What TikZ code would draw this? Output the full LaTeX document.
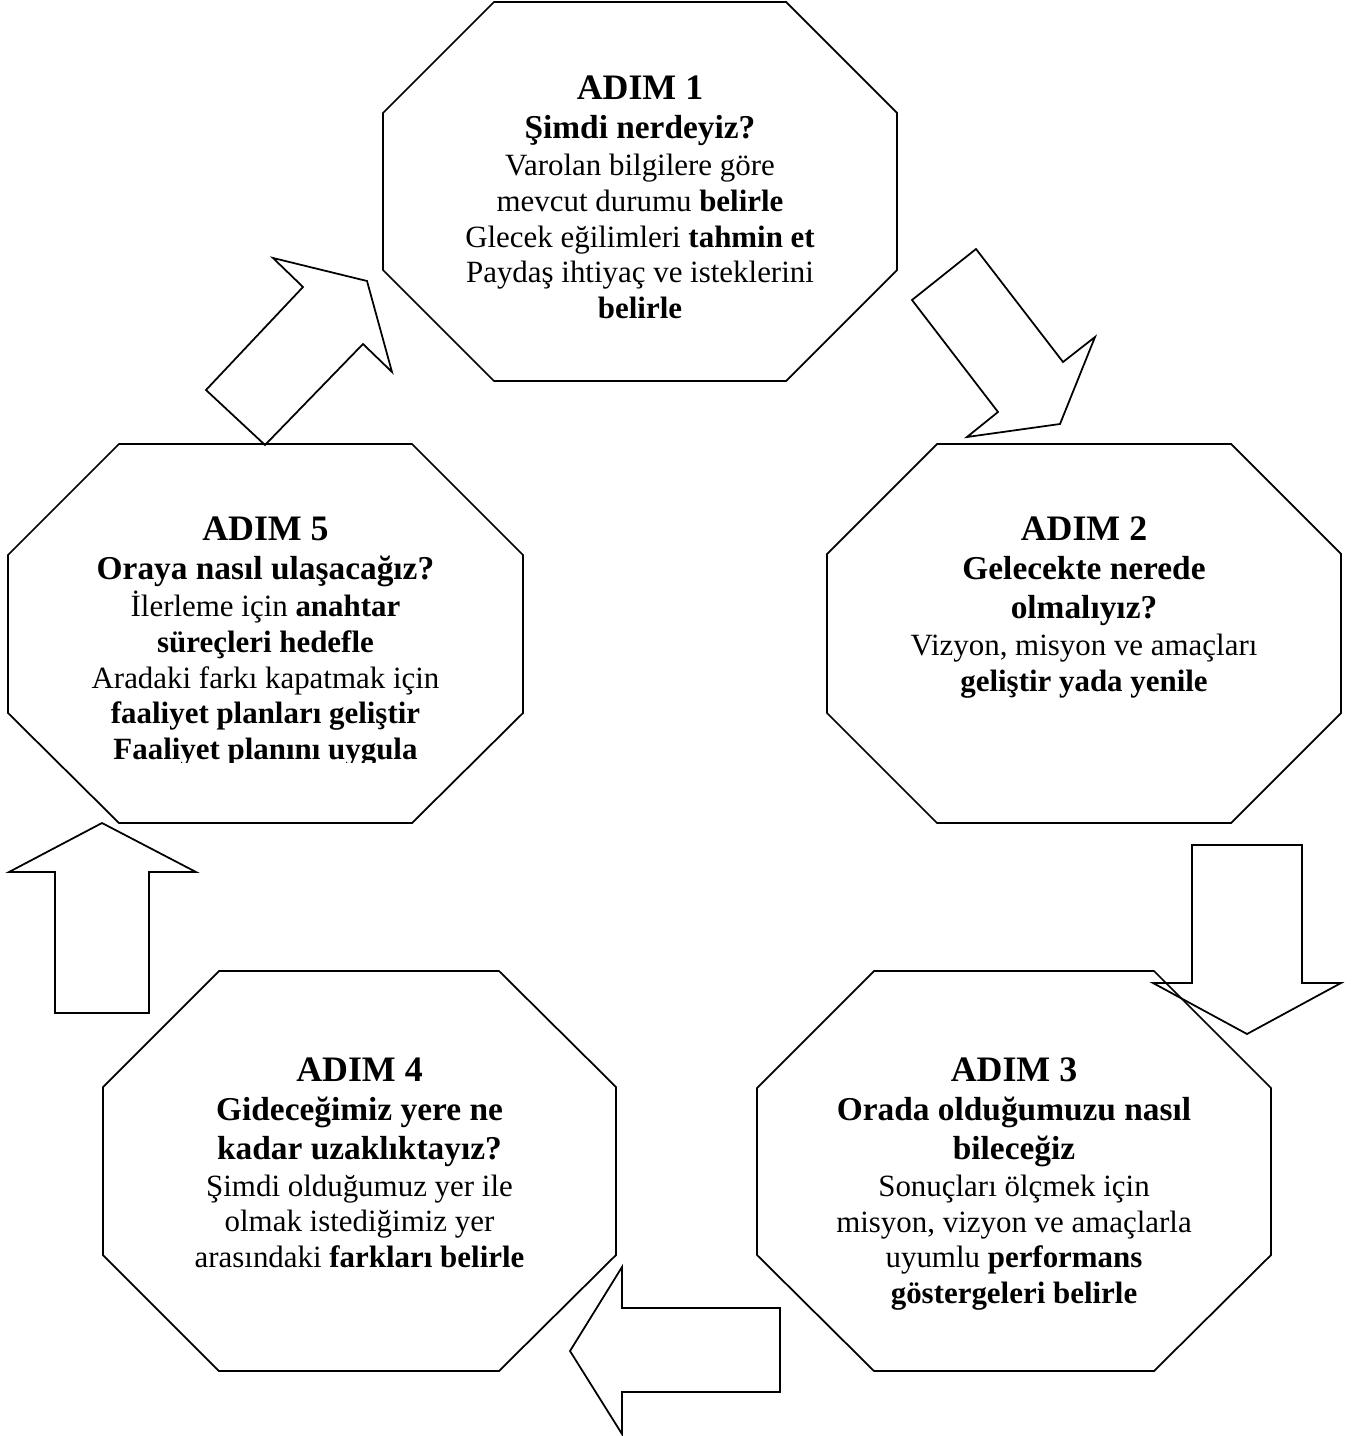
\documentclass[tikz,border=0pt]{standalone}
\usepackage{fontspec}
\setmainfont{Liberation Serif}
\newcommand{\adimyaz}[1]{{\fontsize{20.4}{23.5}\selectfont\bfseries #1}}
\newcommand{\soru}[1]{{\fontsize{19}{21.9}\selectfont\bfseries #1}}

\begin{document}
\begin{tikzpicture}[x=0.02cm,y=-0.02cm]

\tikzset{kenar/.style={line width=1pt,line join=miter}, %sekizgen ve oklar
         kutu/.style={anchor=north,inner sep=0pt,align=center,
                      font=\fontsize{17.6}{20.3}\selectfont}}

\useasboundingbox (0,0) rectangle (1353,1436);

%----------ADIM 1------------
\draw[kenar] (494,2) -- (786,2) -- (897,113) -- (897,270) -- (786,381) -- (494,381) -- (383,270) -- (383,113) -- cycle;
\node[kutu] (adim1) at (640,75) {\adimyaz{ADIM 1}\\[2.4pt]
	\soru{Şimdi nerdeyiz?}\\[0.8pt]
	Varolan bilgilere göre\\
	mevcut durumu \textbf{belirle}\\
	Glecek eğilimleri \textbf{tahmin et}\\
	Paydaş ihtiyaç ve isteklerini\\
	\textbf{belirle}};

%----------ADIM 2------------
\draw[kenar] (937,444) -- (1231,444) -- (1341,554) -- (1341,713) -- (1231,823) -- (937,823) -- (827,713) -- (827,554) -- cycle;
\node[kutu] (adim2) at (1084,516) {\adimyaz{ADIM 2}\\[2.4pt]
	\soru{Gelecekte nerede}\\[1.5pt]
	\soru{olmalıyız?}\\[0.8pt]
	Vizyon, misyon ve amaçları\\
	\textbf{geliştir yada yenile}};

%----------ADIM 3------------
\draw[kenar] (874,971) -- (1154,971) -- (1271,1088) -- (1271,1255) -- (1154,1371) -- (874,1371) -- (757,1255) -- (757,1088) -- cycle;
\node[kutu] (adim3) at (1014,1057) {\adimyaz{ADIM 3}\\[2.4pt]
	\soru{Orada olduğumuzu nasıl}\\[1.5pt]
	\soru{bileceğiz}\\[0.8pt]
	Sonuçları ölçmek için\\
	misyon, vizyon ve amaçlarla\\
	uyumlu \textbf{performans}\\
	\textbf{göstergeleri belirle}};

%----------ADIM 4------------
\draw[kenar] (219,971) -- (499,971) -- (616,1087) -- (616,1255) -- (499,1371) -- (219,1371) -- (103,1255) -- (103,1087) -- cycle;
\node[kutu] (adim4) at (359.5,1057) {\adimyaz{ADIM 4}\\[2.4pt]
	\soru{Gideceğimiz yere ne}\\[1.5pt]
	\soru{kadar uzaklıktayız?}\\[0.8pt]
	Şimdi olduğumuz yer ile\\
	olmak istediğimiz yer\\
	arasındaki \textbf{farkları belirle}};

%----------ADIM 5------------
\draw[kenar] (119,444) -- (412,444) -- (523,555) -- (523,713) -- (412,823) -- (119,823) -- (8,713) -- (8,555) -- cycle;
\begin{scope}
	\clip (0,430) rectangle (530,762); %metin kutusu taşıyor
	\node[kutu] (adim5) at (265.5,516) {\adimyaz{ADIM 5}\\[2.4pt]
		\soru{Oraya nasıl ulaşacağız?}\\[0.8pt]
		İlerleme için \textbf{anahtar}\\
		\textbf{süreçleri hedefle}\\
		Aradaki farkı kapatmak için\\
		\textbf{faaliyet planları geliştir}\\
		\textbf{Faaliyet planını uygula}};
\end{scope}

%----------oklar------------
%5 -> 1
\draw[kenar] (206,390) -- (303,287) -- (273,258) -- (367,281) -- (392,372) -- (363,344) -- (265,445) -- cycle;
%1 -> 2
\draw[kenar] (976,249) -- (912,300) -- (998,412) -- (967,437) -- (1060,424) -- (1095,337) -- (1063,362) -- cycle;
%2 -> 3
\draw[kenar] (1192,845) -- (1192,983) -- (1153,983) -- (1247,1034) -- (1341,983) -- (1302,983) -- (1302,845) -- cycle;
%3 -> 4
\draw[kenar] (780,1308) -- (622,1308) -- (622,1267) -- (570,1351) -- (622,1434) -- (622,1392) -- (780,1392) -- cycle;
%4 -> 5
\draw[kenar] (55,1013) -- (55,872) -- (9,872) -- (102,823) -- (196,872) -- (149,872) -- (149,1013) -- cycle;

\end{tikzpicture}
\end{document}
